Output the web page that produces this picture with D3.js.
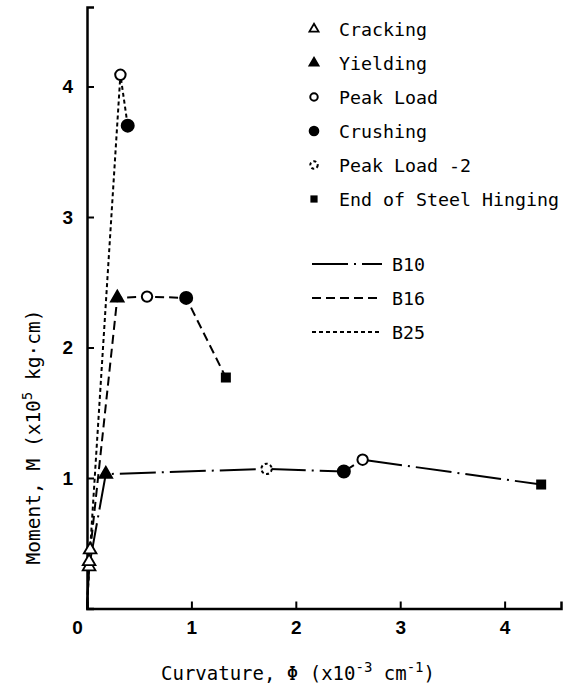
<!DOCTYPE html>
<html>
<head>
<meta charset="utf-8">
<script src="https://cdn.jsdelivr.net/npm/d3@7"></script>
<style>
  body { margin: 0; background: #fff; }
  svg { display: block; }
  .tick text { font-family: "Liberation Sans", sans-serif; font-weight: bold; font-size: 19px; }
  .legend text, .title { font-family: "DejaVu Sans Mono", monospace; fill: #000; }
</style>
</head>
<body>
<div id="chart"></div>
<script>
// curvature (x10^-3 cm^-1) and moment (x10^5 kg.cm)
var b10Phi = [0, 0.02, 0.18, 1.72, 2.46, 2.64, 4.35];
var b10M   = [0, 0.32, 1.03, 1.07, 1.05, 1.14, 0.95];
var b10Ev  = ["", "cracking", "yielding", "peak2", "crushing", "peak", "hinge"];

var b16Phi = [0, 0.02, 0.29, 0.575, 0.95, 1.33];
var b16M   = [0, 0.36, 2.38, 2.39, 2.38, 1.77];
var b16Ev  = ["", "cracking", "yielding", "peak", "crushing", "hinge"];

var b25Phi = [0, 0.03, 0.32, 0.39];
var b25M   = [0, 0.45, 4.09, 3.70];
var b25Ev  = ["", "cracking", "peak", "crushing"];

var seriesNames = ["B10", "B16", "B25"];
var eventKeys   = ["cracking", "yielding", "peak", "crushing", "peak2", "hinge"];
var eventLabels = ["Cracking", "Yielding", "Peak Load", "Crushing", "Peak Load -2", "End of Steel Hinging"];
var xTicks = [0, 1, 2, 3, 4];
var yTicks = [1, 2, 3, 4];

var W = 566, H = 687;
var dashes = { B10: "36,6,2,6", B16: "9,5", B25: "4,3" };

function zip(phi, m, ev) {
  return phi.map(function(p, i) { return { x: p, y: m[i], ev: ev[i] }; });
}
var series = [
  { name: "B10", pts: zip(b10Phi, b10M, b10Ev) },
  { name: "B16", pts: zip(b16Phi, b16M, b16Ev) },
  { name: "B25", pts: zip(b25Phi, b25M, b25Ev) }
];

var svg = d3.select("#chart").append("svg")
    .attr("width", W).attr("height", H);

var x = d3.scaleLinear().domain([0, 4.54]).range([87, 561]);
var y = d3.scaleLinear().domain([0, 4.61]).range([608.5, 6.9]);

// axes, ticks point inward
var xAxis = svg.append("g")
    .attr("transform", "translate(0," + y(0) + ")")
    .call(d3.axisBottom(x).tickValues(xTicks).tickSize(-7).tickPadding(12).tickFormat(d3.format("d")));
var yAxis = svg.append("g")
    .attr("transform", "translate(" + x(0) + ",0)")
    .call(d3.axisLeft(y).tickValues(yTicks).tickSize(-7).tickPadding(14).tickFormat(d3.format("d")));
[xAxis, yAxis].forEach(function(a) {
  a.select(".domain").attr("stroke", "#000").attr("stroke-width", 2.5);
  a.selectAll(".tick line").attr("stroke", "#000").attr("stroke-width", 2);
  a.selectAll(".tick text").attr("fill", "#000");
});
xAxis.selectAll(".tick text").attr("dx", function(d) { return d === 0 ? -10 : 0; });

// lines
var line = d3.line().x(function(d) { return x(d.x); }).y(function(d) { return y(d.y); });
svg.append("g").selectAll("path")
  .data(series)
  .enter().append("path")
    .attr("d", function(d) { return line(d.pts); })
    .attr("fill", "none")
    .attr("stroke", "#000")
    .attr("stroke-width", 2)
    .attr("stroke-dasharray", function(d) { return dashes[d.name]; });

// markers
function drawMarker(g, ev, s) {
  var k = s || 1;
  if (ev === "cracking" || ev === "yielding") {
    g.append("path").attr("d", d3.symbol().type(d3.symbolTriangle).size(70 * k * k)())
      .attr("fill", ev === "yielding" ? "#000" : "#fff")
      .attr("stroke", "#000").attr("stroke-width", 1.8);
  } else if (ev === "peak" || ev === "crushing" || ev === "peak2") {
    g.append("circle").attr("r", (ev === "crushing" ? 6 : 5.2) * k)
      .attr("fill", ev === "crushing" ? "#000" : "#fff")
      .attr("stroke", "#000").attr("stroke-width", 2)
      .attr("stroke-dasharray", ev === "peak2" ? "3,2.5" : null);
  } else if (ev === "hinge") {
    var a = 10 * k;
    g.append("rect").attr("x", -a / 2).attr("y", -a / 2).attr("width", a).attr("height", a)
      .attr("fill", "#000");
  }
}

series.forEach(function(s) {
  s.pts.forEach(function(p) {
    if (!p.ev) return;
    var g = svg.append("g").attr("transform", "translate(" + x(p.x) + "," + y(p.y) + ")");
    drawMarker(g, p.ev, 1);
  });
});

// legend: markers
var leg = svg.append("g").attr("class", "legend");
eventKeys.forEach(function(k, i) {
  var yy = 29 + i * 34;
  var g = leg.append("g").attr("transform", "translate(314," + yy + ")");
  drawMarker(g, k, 0.72);
  leg.append("text").attr("x", 339).attr("y", yy).attr("dy", "0.36em")
    .attr("font-size", 18.3).text(eventLabels[i]);
});

// legend: line styles
seriesNames.forEach(function(n, i) {
  var yy = 264 + i * 34;
  leg.append("line").attr("x1", 312).attr("x2", 382).attr("y1", yy).attr("y2", yy)
    .attr("stroke", "#000").attr("stroke-width", 2).attr("stroke-dasharray", dashes[n]);
  leg.append("text").attr("x", 392).attr("y", yy).attr("dy", "0.36em")
    .attr("font-size", 18.3).text(n);
});

// axis titles
var xt = svg.append("text").attr("class", "title")
    .attr("x", 298).attr("y", 680).attr("text-anchor", "middle").attr("font-size", 19);
xt.append("tspan").text("Curvature,  \u03A6 (x10");
xt.append("tspan").attr("dy", -8).attr("font-size", 14).text("-3");
xt.append("tspan").attr("dy", 8).text(" cm");
xt.append("tspan").attr("dy", -8).attr("font-size", 14).text("-1");
xt.append("tspan").attr("dy", 8).text(")");

var yt = svg.append("text").attr("class", "title")
    .attr("transform", "translate(40,437) rotate(-90)")
    .attr("text-anchor", "middle").attr("font-size", 19.5);
yt.append("tspan").text("Moment, M (x10");
yt.append("tspan").attr("dy", -8).attr("font-size", 14).text("5");
yt.append("tspan").attr("dy", 8).text(" kg\u00B7cm)");
</script>
</body>
</html>
